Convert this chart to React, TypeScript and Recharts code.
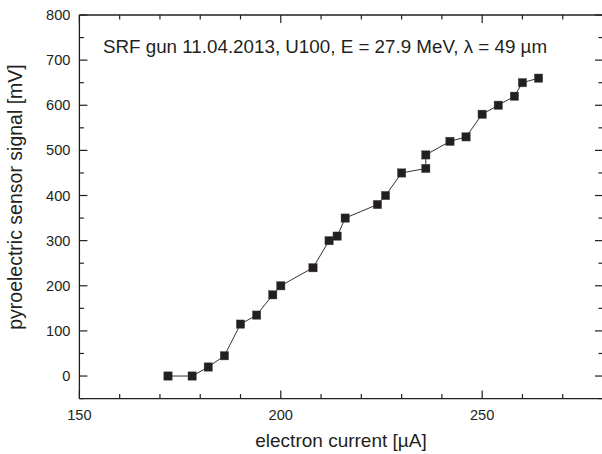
import React from 'react';
import { ComposedChart, Line, XAxis, YAxis } from 'recharts';

const currents = [172, 178, 182, 186, 190, 194, 198, 200, 208, 212, 214, 216, 224, 226, 230, 236, 236, 242, 246, 250, 254, 258, 260, 264];
const signals = [0, 0, 20, 45, 115, 135, 180, 200, 240, 300, 310, 350, 380, 400, 450, 460, 490, 520, 530, 580, 600, 620, 650, 660];
const xTicks = [150, 160, 170, 180, 190, 200, 210, 220, 230, 240, 250, 260, 270, 280];
const xLabels = [150, 200, 250];
const yTicks = [-50, 0, 50, 100, 150, 200, 250, 300, 350, 400, 450, 500, 550, 600, 650, 700, 750, 800];
const title = 'SRF gun 11.04.2013, U100, E = 27.9 MeV, \u03bb = 49 \u00b5m';
const xTitle = 'electron current [\u00b5A]';
const yTitle = 'pyroelectric sensor signal [mV]';

const data = currents.map((c, i) => ({ x: c, y: signals[i] }));

const INK = '#231f20';
const FONT = '"Liberation Sans", Arial, sans-serif';

const BottomTick = (props: any) => {
  const { x, y, payload } = props;
  const v = payload.value;
  const major = v % 50 === 0;
  return (
    <g>
      <line x1={x} y1={y} x2={x} y2={y - (major ? 8 : 4.5)} stroke={INK} strokeWidth={1.2} />
      {xLabels.includes(v) && (
        <text x={x} y={y + 21} textAnchor="middle" fontSize={14.6} fontFamily={FONT} fill={INK}>{v}</text>
      )}
    </g>
  );
};

const TopTick = (props: any) => {
  const { x, y, payload } = props;
  const major = payload.value % 50 === 0;
  return <line x1={x} y1={y} x2={x} y2={y + (major ? 8 : 4.5)} stroke={INK} strokeWidth={1.2} />;
};

const LeftTick = (props: any) => {
  const { x, y, payload } = props;
  const v = payload.value;
  const major = v % 100 === 0;
  return (
    <g>
      <line x1={x} y1={y} x2={x + (major ? 8 : 4.5)} y2={y} stroke={INK} strokeWidth={1.2} />
      {major && v >= 0 && (
        <text x={x - 9} y={y + 5} textAnchor="end" fontSize={14.6} fontFamily={FONT} fill={INK}>{v}</text>
      )}
    </g>
  );
};

const RightTick = (props: any) => {
  const { x, y, payload } = props;
  const major = payload.value % 100 === 0;
  return <line x1={x} y1={y} x2={x - (major ? 8 : 4.5)} y2={y} stroke={INK} strokeWidth={1.2} />;
};

const SquareDot = (props: any) => {
  const { cx, cy, index } = props;
  if (cx == null || cy == null) return null;
  return <rect key={index} x={cx - 4.2} y={cy - 4.2} width={8.4} height={8.4} fill={INK} stroke="#555" strokeWidth={0.4} />;
};

export default function App() {
  return (
    <div style={{ position: 'absolute', left: 0, top: 0, width: 602, height: 454, overflow: 'hidden', background: '#fff' }}>
      <ComposedChart
        width={620}
        height={454}
        data={data}
        margin={{ top: 14, right: 16, bottom: 54.4, left: 0 }}
      >
        <XAxis
          xAxisId="b"
          dataKey="x"
          type="number"
          domain={[150, 280]}
          allowDataOverflow
          ticks={xTicks}
          interval={0}
          height={1}
          tickSize={0}
          tickMargin={0}
          tickLine={false}
          tick={<BottomTick />}
          axisLine={{ stroke: INK, strokeWidth: 1.3 }}
        />
        <XAxis
          xAxisId="t"
          orientation="top"
          dataKey="x"
          type="number"
          domain={[150, 280]}
          allowDataOverflow
          ticks={xTicks}
          interval={0}
          height={1}
          tickSize={0}
          tickMargin={0}
          tickLine={false}
          tick={<TopTick />}
          axisLine={{ stroke: INK, strokeWidth: 1.3 }}
        />
        <YAxis
          yAxisId="l"
          type="number"
          domain={[-50, 800]}
          allowDataOverflow
          ticks={yTicks}
          interval={0}
          width={79.4}
          tickSize={0}
          tickMargin={0}
          tickLine={false}
          tick={<LeftTick />}
          axisLine={{ stroke: INK, strokeWidth: 1.3 }}
        />
        <YAxis
          yAxisId="r"
          orientation="right"
          type="number"
          domain={[-50, 800]}
          allowDataOverflow
          ticks={yTicks}
          interval={0}
          width={1}
          tickSize={0}
          tickMargin={0}
          tickLine={false}
          tick={<RightTick />}
          axisLine={{ stroke: INK, strokeWidth: 1.3 }}
        />
        <Line
          xAxisId="b"
          yAxisId="l"
          dataKey="y"
          type="linear"
          stroke="#333"
          strokeWidth={1}
          dot={<SquareDot />}
          activeDot={false}
          isAnimationActive={false}
        />
        <Line
          xAxisId="t"
          yAxisId="r"
          dataKey="y"
          type="linear"
          stroke="none"
          dot={false}
          activeDot={false}
          isAnimationActive={false}
        />
      </ComposedChart>
      <svg width={602} height={454} style={{ position: 'absolute', left: 0, top: 0, pointerEvents: 'none' }}>
        <text x={325} y={53} textAnchor="middle" fontSize={18.8} fontFamily={FONT} fill={INK}>{title}</text>
        <text x={341} y={447} textAnchor="middle" fontSize={19} fontFamily={FONT} fill={INK}>{xTitle}</text>
        <text transform="translate(22,197) rotate(-90)" x={0} y={0} textAnchor="middle" fontSize={19.5} fontFamily={FONT} fill={INK}>{yTitle}</text>
      </svg>
    </div>
  );
}
